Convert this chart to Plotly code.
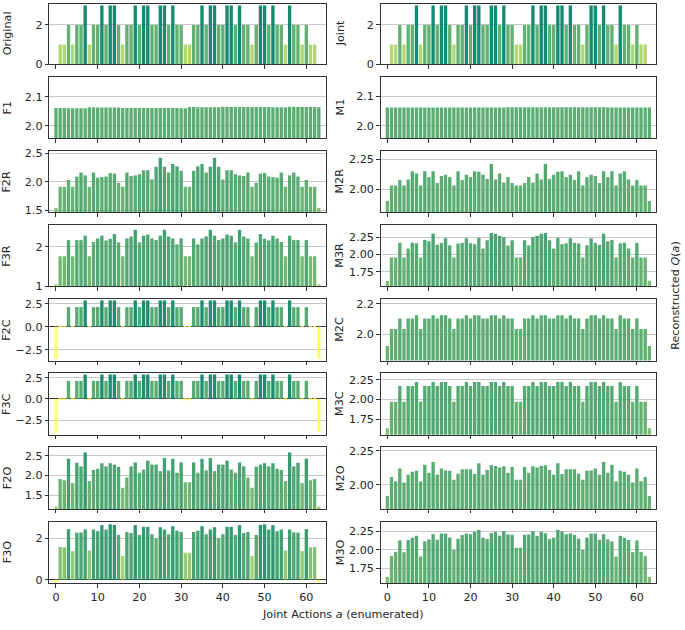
import plotly.graph_objects as go
from plotly.subplots import make_subplots

x_actions = list(range(64))
x_ticks = [0, 10, 20, 30, 40, 50, 60]

original = [0,1,1,2,1,2,2,3,1,2,2,3,2,3,3,2,1,2,2,3,2,3,3,2,2,3,3,2,3,2,2,1,
            1,2,2,3,2,3,3,2,2,3,3,2,3,2,2,1,2,3,3,2,3,2,2,1,3,2,2,1,2,1,1,0]
joint = [0,1,1,2,1,2,2,3,1,2,2,3,2,3,3,2,1,2,2,3,2,3,3,2,2,3,3,2,3,2,2,1,
         1,2,2,3,2,3,3,2,2,3,3,2,3,2,2,1,2,3,3,2,3,2,2,1,3,2,2,1,2,1,1,0]

f1 = [2.062,2.062,2.062,2.061,2.061,2.061,2.061,2.061,2.064,2.064,2.063,2.063,2.063,2.063,2.063,2.063,
      2.062,2.062,2.062,2.062,2.062,2.062,2.062,2.062,2.062,2.062,2.062,2.062,2.062,2.062,2.061,2.061,
      2.065,2.065,2.064,2.064,2.064,2.064,2.064,2.064,2.066,2.066,2.065,2.065,2.065,2.065,2.065,2.065,
      2.065,2.065,2.065,2.065,2.064,2.064,2.064,2.064,2.066,2.066,2.065,2.065,2.065,2.065,2.065,2.064]
m1 = [2.062,2.062,2.062,2.062,2.062,2.062,2.062,2.062,2.062,2.062,2.062,2.062,2.062,2.062,2.062,2.062,
      2.062,2.062,2.062,2.062,2.062,2.062,2.062,2.062,2.062,2.062,2.062,2.062,2.062,2.063,2.063,2.063,
      2.063,2.063,2.063,2.063,2.063,2.063,2.063,2.063,2.063,2.063,2.063,2.063,2.063,2.063,2.063,2.063,
      2.063,2.063,2.063,2.063,2.063,2.062,2.062,2.062,2.062,2.062,2.062,2.062,2.062,2.062,2.062,2.062]

f2r = [1.54,1.91,1.91,2.03,1.91,2.09,2.16,2.11,1.91,2.16,2.07,2.08,2.09,2.15,2.14,1.98,
       1.91,2.16,2.10,2.11,2.13,2.20,2.20,2.04,2.26,2.42,2.26,2.16,2.31,2.27,2.19,1.91,
       1.91,2.19,2.27,2.31,2.16,2.26,2.42,2.26,2.04,2.20,2.20,2.13,2.11,2.10,2.16,1.91,
       1.98,2.14,2.15,2.09,2.08,2.07,2.16,1.91,2.11,2.16,2.09,1.91,2.03,1.91,1.91,1.54]
m2r = [1.90,2.03,2.03,2.075,2.03,2.08,2.15,2.13,2.03,2.15,2.10,2.15,2.05,2.11,2.12,2.10,
       2.03,2.15,2.075,2.12,2.10,2.15,2.145,2.12,2.085,2.21,2.08,2.13,2.055,2.10,2.05,2.03,
       2.03,2.05,2.10,2.055,2.13,2.08,2.21,2.085,2.12,2.145,2.15,2.10,2.12,2.075,2.15,2.03,
       2.10,2.12,2.11,2.05,2.15,2.10,2.15,2.03,2.13,2.15,2.08,2.03,2.075,2.03,2.03,1.90]
f3r = [1.05,1.76,1.76,2.17,1.76,2.17,2.17,2.28,1.76,2.12,2.21,2.28,2.16,2.20,2.32,2.11,
       1.76,2.21,2.26,2.43,2.11,2.28,2.31,2.21,2.17,2.28,2.43,2.26,2.21,2.06,2.21,1.76,
       1.76,2.21,2.06,2.21,2.26,2.43,2.28,2.17,2.21,2.31,2.28,2.11,2.43,2.26,2.21,1.76,
       2.11,2.32,2.20,2.16,2.28,2.21,2.12,1.76,2.28,2.17,2.17,1.76,2.17,1.76,1.76,1.05]
m3r = [1.62,1.957,1.957,2.167,1.957,2.086,2.17,2.16,1.957,2.21,2.19,2.30,2.14,2.167,2.233,2.133,
       1.957,2.157,2.167,2.233,2.16,2.148,2.238,2.086,2.205,2.31,2.30,2.27,2.25,2.13,2.205,1.957,
       1.957,2.205,2.13,2.25,2.27,2.30,2.31,2.205,2.086,2.238,2.148,2.16,2.233,2.167,2.157,1.957,
       2.133,2.233,2.167,2.14,2.30,2.19,2.21,1.957,2.16,2.17,2.086,1.957,2.167,1.957,1.957,1.62]
f2c = [-3.52,-0.02,-0.02,2.14,-0.02,2.14,2.14,2.87,-0.02,2.14,2.14,2.87,2.14,2.87,2.87,2.14,
       -0.02,2.14,2.14,2.87,2.14,2.87,2.87,2.14,2.14,2.87,2.87,2.14,2.87,2.14,2.14,-0.02,
       -0.02,2.14,2.14,2.87,2.14,2.87,2.87,2.14,2.14,2.87,2.87,2.14,2.87,2.14,2.14,-0.02,
       2.14,2.87,2.87,2.14,2.87,2.14,2.14,-0.02,2.87,2.14,2.14,-0.02,2.14,-0.02,-0.02,-3.52]
m2c = [1.92,2.034,2.034,2.103,2.034,2.103,2.103,2.125,2.034,2.103,2.103,2.125,2.103,2.125,2.125,2.103,
       2.034,2.103,2.103,2.125,2.103,2.125,2.125,2.103,2.103,2.125,2.125,2.103,2.125,2.103,2.103,2.034,
       2.034,2.103,2.103,2.125,2.103,2.125,2.125,2.103,2.103,2.125,2.125,2.103,2.125,2.103,2.103,2.034,
       2.103,2.125,2.125,2.103,2.125,2.103,2.103,2.034,2.125,2.103,2.103,2.034,2.103,2.034,2.034,1.92]
f3c = [-4.0,-0.08,-0.08,2.12,-0.08,2.12,2.12,2.87,-0.08,2.12,2.12,2.87,2.12,2.87,2.87,2.12,
       -0.08,2.12,2.12,2.87,2.12,2.87,2.87,2.12,2.12,2.87,2.87,2.12,2.87,2.12,2.12,-0.08,
       -0.08,2.12,2.12,2.87,2.12,2.87,2.87,2.12,2.12,2.87,2.87,2.12,2.87,2.12,2.12,-0.08,
       2.12,2.87,2.87,2.12,2.87,2.12,2.12,-0.08,2.87,2.12,2.12,-0.08,2.12,-0.08,-0.08,-3.8]
m3c = [1.635,1.97,1.97,2.17,1.97,2.17,2.17,2.22,1.97,2.17,2.17,2.22,2.17,2.22,2.22,2.17,
       1.97,2.17,2.17,2.22,2.17,2.22,2.22,2.17,2.17,2.22,2.22,2.17,2.22,2.17,2.17,1.97,
       1.97,2.17,2.17,2.22,2.17,2.22,2.22,2.17,2.17,2.22,2.22,2.17,2.22,2.17,2.17,1.97,
       2.17,2.22,2.22,2.17,2.22,2.17,2.17,1.97,2.22,2.17,2.17,1.97,2.17,1.97,1.97,1.635]
f2o = [1.22,1.91,1.88,2.425,1.81,2.32,2.23,2.58,1.86,2.14,2.17,2.31,2.23,2.31,2.275,2.22,
       1.69,1.95,2.23,2.33,2.07,2.15,2.375,2.275,2.275,2.11,2.44,2.13,2.42,2.07,2.33,1.83,
       1.83,2.33,2.07,2.42,2.13,2.44,2.11,2.275,2.275,2.375,2.15,2.07,2.33,2.23,1.95,1.69,
       2.22,2.275,2.31,2.23,2.31,2.17,2.14,1.86,2.58,2.23,2.32,1.81,2.425,1.88,1.91,1.22]
m2o = [1.918,2.058,2.026,2.12,2.017,2.075,2.096,2.103,2.024,2.149,2.089,2.168,2.075,2.12,2.106,2.103,
       2.038,2.082,2.115,2.115,2.115,2.079,2.159,2.075,2.11,2.144,2.139,2.127,2.137,2.089,2.132,2.038,
       2.038,2.132,2.089,2.137,2.127,2.139,2.144,2.11,2.075,2.159,2.079,2.115,2.115,2.115,2.082,2.038,
       2.103,2.106,2.12,2.075,2.168,2.089,2.149,2.024,2.103,2.096,2.075,2.017,2.12,2.026,2.058,1.918]
f3o = [-0.15,1.58,1.56,2.44,1.375,2.27,2.28,2.42,1.41,2.42,2.34,2.63,2.41,2.67,2.64,2.16,
       1.14,2.30,2.25,2.63,2.16,2.55,2.55,2.19,2.0,2.53,2.42,2.19,2.58,2.36,2.30,1.30,
       1.30,2.30,2.36,2.58,2.19,2.42,2.53,2.0,2.19,2.55,2.55,2.16,2.63,2.25,2.30,1.14,
       2.16,2.64,2.67,2.41,2.63,2.34,2.42,1.41,2.42,2.28,2.27,1.375,2.44,1.56,1.58,-0.15]
m3o = [1.633,1.916,1.973,2.128,1.969,2.133,2.164,2.19,1.91,2.115,2.142,2.212,2.137,2.221,2.221,2.168,
       2.0,2.15,2.2,2.221,2.212,2.248,2.27,2.164,2.146,2.226,2.243,2.19,2.252,2.208,2.204,2.027,
       2.027,2.204,2.208,2.252,2.19,2.243,2.226,2.146,2.164,2.27,2.248,2.212,2.221,2.2,2.15,2.0,
       2.168,2.221,2.221,2.137,2.212,2.142,2.115,1.91,2.19,2.164,2.133,1.969,2.128,1.973,1.916,1.633]

left_names = ["Original", "F1", "F2R", "F3R", "F2C", "F3C", "F2O", "F3O"]
right_names = ["Joint", "M1", "M2R", "M3R", "M2C", "M3C", "M2O", "M3O"]
left_series = [original, f1, f2r, f3r, f2c, f3c, f2o, f3o]
right_series = [joint, m1, m2r, m3r, m2c, m3c, m2o, m3o]

left_ticks = [[0, 2], [2.0, 2.1], [1.5, 2.0, 2.5], [1, 2], [-2.5, 0.0, 2.5], [-2.5, 0.0, 2.5], [1.5, 2.0, 2.5], [0, 2]]
left_ticktext = [["0", "2"], ["2.0", "2.1"], ["1.5", "2.0", "2.5"], ["1", "2"], ["\u22122.5", "0.0", "2.5"],
                 ["\u22122.5", "0.0", "2.5"], ["1.5", "2.0", "2.5"], ["0", "2"]]
right_ticks = [[0, 2], [2.0, 2.1], [2.0, 2.25], [1.75, 2.0, 2.25], [2.0, 2.2], [1.75, 2.0, 2.25], [2.0, 2.25], [1.75, 2.0, 2.25]]
right_ticktext = [["0", "2"], ["2.0", "2.1"], ["2.00", "2.25"], ["1.75", "2.00", "2.25"], ["2.0", "2.2"],
                  ["1.75", "2.00", "2.25"], ["2.00", "2.25"], ["1.75", "2.00", "2.25"]]

W, H = 685, 630
FONT = "DejaVu Sans"
FS = 11.2
TEXT = "#262626"


def summer_r(v, vmin=0.0, vmax=3.0):
    t = (v - vmin) / (vmax - vmin)
    t = min(max(t, 0.0), 1.0)
    s = 1.0 - t
    return "rgb(%d,%d,%d)" % (round(s * 255), round((0.5 + 0.5 * s) * 255), round(0.4 * 255))


fig = make_subplots(rows=8, cols=2)

col_px = [(49.3, 325.5), (380.7, 656.0)]
row_top0 = -1.5
pitch = 75.46
ax_h = 62.6

for r in range(8):
    for c in range(2):
        vals = left_series[r] if c == 0 else right_series[r]
        fig.add_trace(go.Bar(x=x_actions, y=vals,
                             marker=dict(color=[summer_r(v) for v in vals], line=dict(width=0)),
                             opacity=0.92, showlegend=False, hoverinfo="x+y"),
                      row=r + 1, col=c + 1)
        idx = r * 2 + c + 1
        xa = "xaxis" if idx == 1 else "xaxis%d" % idx
        ya = "yaxis" if idx == 1 else "yaxis%d" % idx
        top = row_top0 + pitch * r
        bot = top + ax_h
        lo_v = min(vals)
        hi_v = max(vals)
        lo = lo_v - 0.05 * abs(lo_v)
        hi = hi_v + 0.05 * abs(hi_v)
        if top < 0:
            hi = lo + (hi - lo) * bot / (bot - top)
            top = 0
        x0, x1 = col_px[c]
        fig.layout[xa].update(domain=[x0 / W, x1 / W], range=[-1.6, 64.6],
                              tickvals=x_ticks, showticklabels=(r == 7),
                              ticks="outside", ticklen=3.5, tickwidth=0.8, tickcolor="#333",
                              showline=True, linecolor="#333", linewidth=1, mirror=True,
                              showgrid=False, zeroline=False,
                              tickfont=dict(family=FONT, size=FS, color=TEXT))
        tv = left_ticks[r] if c == 0 else right_ticks[r]
        tt = left_ticktext[r] if c == 0 else right_ticktext[r]
        fig.layout[ya].update(domain=[1 - bot / H, 1 - top / H], range=[lo, hi],
                              tickvals=tv, ticktext=tt,
                              ticks="outside", ticklen=3.5, tickwidth=0.8, tickcolor="#333",
                              showline=True, linecolor="#333", linewidth=1, mirror=True,
                              showgrid=True, gridcolor="#c8c8c8", gridwidth=0.8,
                              zeroline=True, zerolinecolor="#333", zerolinewidth=1,
                              tickfont=dict(family=FONT, size=FS, color=TEXT))
        name = left_names[r] if c == 0 else right_names[r]
        lx = 7 if c == 0 else 340
        fig.add_annotation(text=name, x=lx / W, y=1 - (row_top0 + pitch * r + ax_h / 2) / H,
                           xref="paper", yref="paper", textangle=-90, showarrow=False,
                           xanchor="center", yanchor="middle",
                           font=dict(family=FONT, size=FS, color=TEXT))

fig.add_annotation(text="Joint Actions <i>a</i> (enumerated)", x=342.5 / W, y=1 - 621 / H,
                   xref="paper", yref="paper", showarrow=False, xanchor="center", yanchor="middle",
                   font=dict(family=FONT, size=FS, color=TEXT))
fig.add_annotation(text="Reconstructed <i>Q</i>(<i>a</i>)", x=676 / W, y=1 - 297 / H,
                   xref="paper", yref="paper", showarrow=False, textangle=-90,
                   xanchor="center", yanchor="middle",
                   font=dict(family=FONT, size=FS, color=TEXT))

fig.update_layout(width=W, height=H, margin=dict(l=0, r=0, t=0, b=0),
                  plot_bgcolor="white", paper_bgcolor="white", bargap=0.2, showlegend=False)

fig.write_html("out.html", config={"displayModeBar": False},
               post_script="document.body.style.margin='0';document.body.style.padding='0';")
